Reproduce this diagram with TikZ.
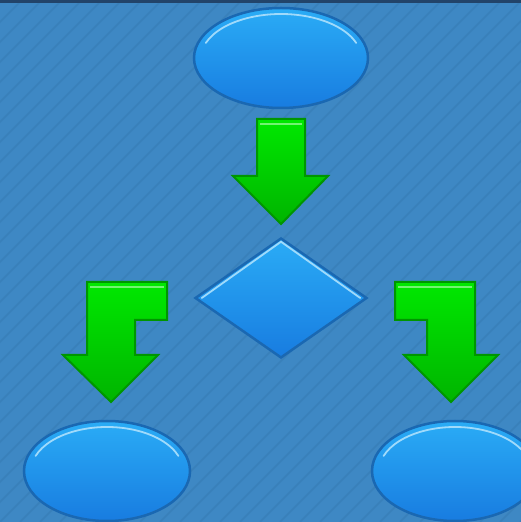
\documentclass[tikz,border=0pt]{standalone}
\usepackage{tikz}
\usetikzlibrary{shapes.geometric}

\definecolor{bgblue}{RGB}{62,136,196}
\definecolor{stripeblue}{RGB}{57,128,186}
\definecolor{topline}{RGB}{34,68,106}
\definecolor{nodetop}{RGB}{42,172,246}
\definecolor{nodebot}{RGB}{24,124,224}
\definecolor{nodeedge}{RGB}{26,104,178}
\definecolor{greentop}{RGB}{0,232,0}
\definecolor{greenbot}{RGB}{0,180,0}
\definecolor{greenedge}{RGB}{0,150,0}

\tikzset{
    terminal/.style={ellipse, draw=nodeedge, line width=2.5pt, top color=nodetop, bottom color=nodebot, inner sep=0pt},
    decision/.style={diamond, draw=nodeedge, line width=2.5pt, top color=nodetop, bottom color=nodebot, inner sep=0pt, minimum width=172pt, minimum height=120pt},
    flowarrow/.style={draw=greenedge, line width=2pt, top color=greentop, bottom color=greenbot, line join=miter},
    gloss/.style={white!55!nodetop, line width=1.8pt, line cap=round},
    greengloss/.style={white!45!greentop, line width=2pt}
}

\begin{document}
\begin{tikzpicture}[x=1pt,y=1pt]
    \useasboundingbox (0,0) rectangle (521,522);
    \clip (0,0) rectangle (521,522);
    % background
    \fill[bgblue] (0,0) rectangle (521,522);
    \foreach \i in {-540,-520,...,540}
        \draw[stripeblue, line width=1.5pt] (\i,0) -- ++(522,522);
    \fill[topline] (0,519) rectangle (521,522);

    % nodes
    \node[terminal, minimum width=174pt, minimum height=100pt] (start) at (281,464) {};
    \node[decision] (choice) at (281,224) {};
    \node[terminal, minimum width=166pt, minimum height=100pt] (left) at (107,51) {};
    \node[terminal, minimum width=166pt, minimum height=100pt] (right) at (455,51) {};

    % highlights
    \draw[gloss] (start.center) ++(160:80 and 44) arc[start angle=160, end angle=20, x radius=80, y radius=44];
    \draw[gloss] (left.center) ++(160:76 and 44) arc[start angle=160, end angle=20, x radius=76, y radius=44];
    \draw[gloss] (right.center) ++(160:76 and 44) arc[start angle=160, end angle=20, x radius=76, y radius=44];
    \draw[gloss] ([xshift=8pt]choice.west) -- ([yshift=-5pt]choice.north) -- ([xshift=-8pt]choice.east);

    % arrows
    \draw[flowarrow] (257,403) -- (305,403) -- (305,346) -- (328,346) -- (281,298) -- (233,346) -- (257,346) -- cycle;
    \draw[greengloss] (260,398) -- (302,398);
    \draw[flowarrow] (87,240) -- (167,240) -- (167,202) -- (135,202) -- (135,167) -- (158,167)
        -- (111,120) -- (63,167) -- (87,167) -- cycle;
    \draw[greengloss] (90,235) -- (164,235);
    \draw[flowarrow] (475,240) -- (395,240) -- (395,202) -- (427,202) -- (427,167) -- (404,167)
        -- (451,120) -- (498,167) -- (475,167) -- cycle;
    \draw[greengloss] (398,235) -- (472,235);
\end{tikzpicture}
\end{document}
